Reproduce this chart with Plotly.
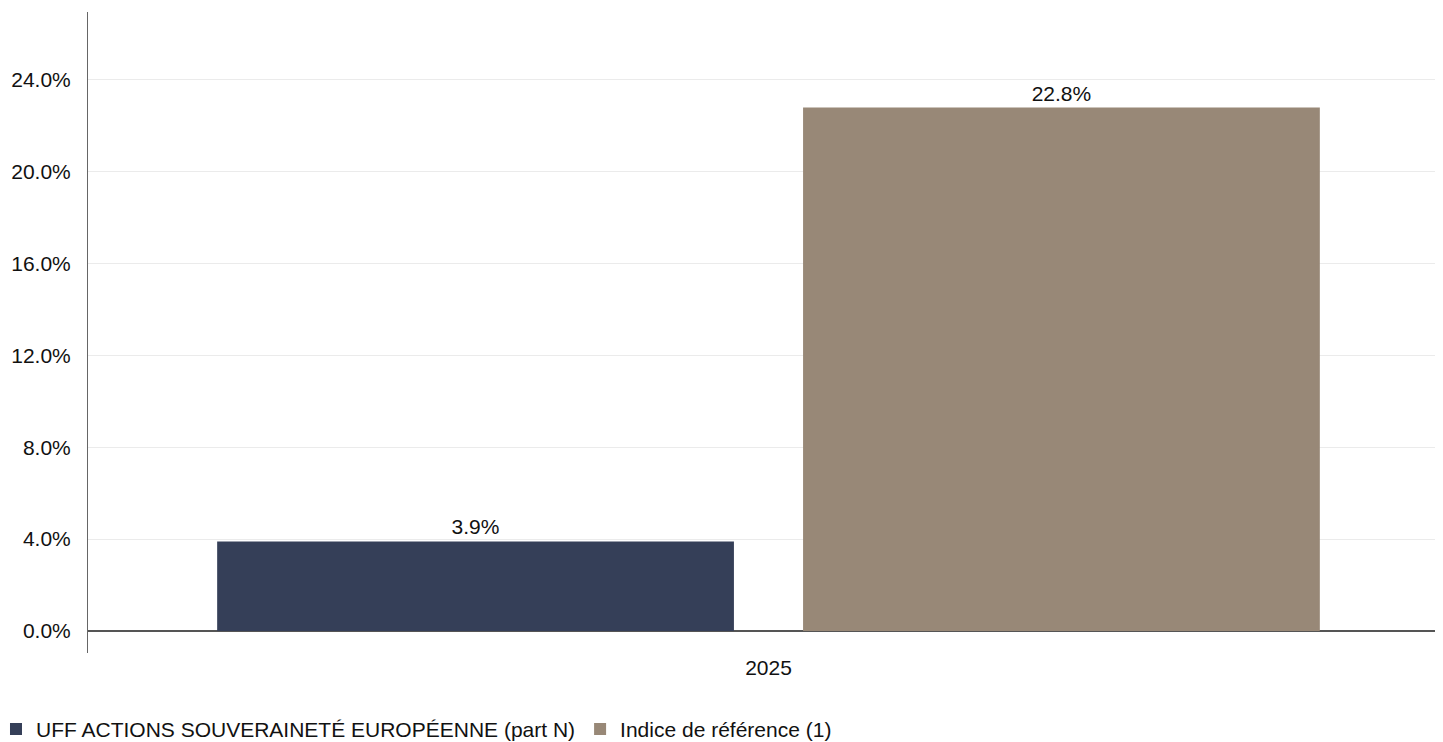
import plotly.graph_objects as go

categories = ["2025"]
series_names = ["UFF ACTIONS SOUVERAINETÉ EUROPÉENNE (part N)", "Indice de référence (1)"]
fund_values = [3.9]
index_values = [22.8]
series_colors = ["#353f58", "#988877"]
tick_values = [0, 4, 8, 12, 16, 20, 24]
tick_labels = ["0.0%", "4.0%", "8.0%", "12.0%", "16.0%", "20.0%", "24.0%"]

FONT = "Liberation Sans, Arial, sans-serif"

fig = go.Figure()
for name, vals, col in zip(series_names, [fund_values, index_values], series_colors):
    fig.add_trace(go.Bar(
        x=categories, y=vals, name=name,
        marker=dict(color=col, line=dict(width=0)),
        texttemplate="%{y:.1f}%", textposition="outside",
        textfont=dict(family=FONT, size=21, color="#111111"),
        cliponaxis=False,
    ))

fig.update_layout(
    width=1435, height=734,
    margin=dict(l=80, r=0, t=4, b=89, autoexpand=False),
    paper_bgcolor="white", plot_bgcolor="white",
    barmode="group", bargap=0.139, bargroupgap=0.118,
    font=dict(family=FONT, size=21, color="#111111"),
    showlegend=True,
    legend=dict(
        orientation="h", xref="paper", x=-0.0679, xanchor="left",
        yref="paper", y=-0.119, yanchor="middle",
        font=dict(family=FONT, size=21, color="#111111"),
        itemwidth=30, traceorder="normal",
    ),
    xaxis=dict(
        type="category", range=[-0.5, 0.4956],
        showline=False, showgrid=False, ticks="",
        tickfont=dict(family=FONT, size=21, color="#111111"),
    ),
    yaxis=dict(
        range=[-0.96, 26.96],
        tickvals=tick_values, ticktext=tick_labels,
        showline=True, linecolor="#666666", linewidth=1,
        showgrid=True, gridcolor="#ebebeb", gridwidth=1,
        zeroline=True, zerolinecolor="#555555", zerolinewidth=1.5,
        ticks="", ticklabelstandoff=12,
        tickfont=dict(family=FONT, size=21, color="#111111"),
    ),
)

fig.write_html("out.html")
